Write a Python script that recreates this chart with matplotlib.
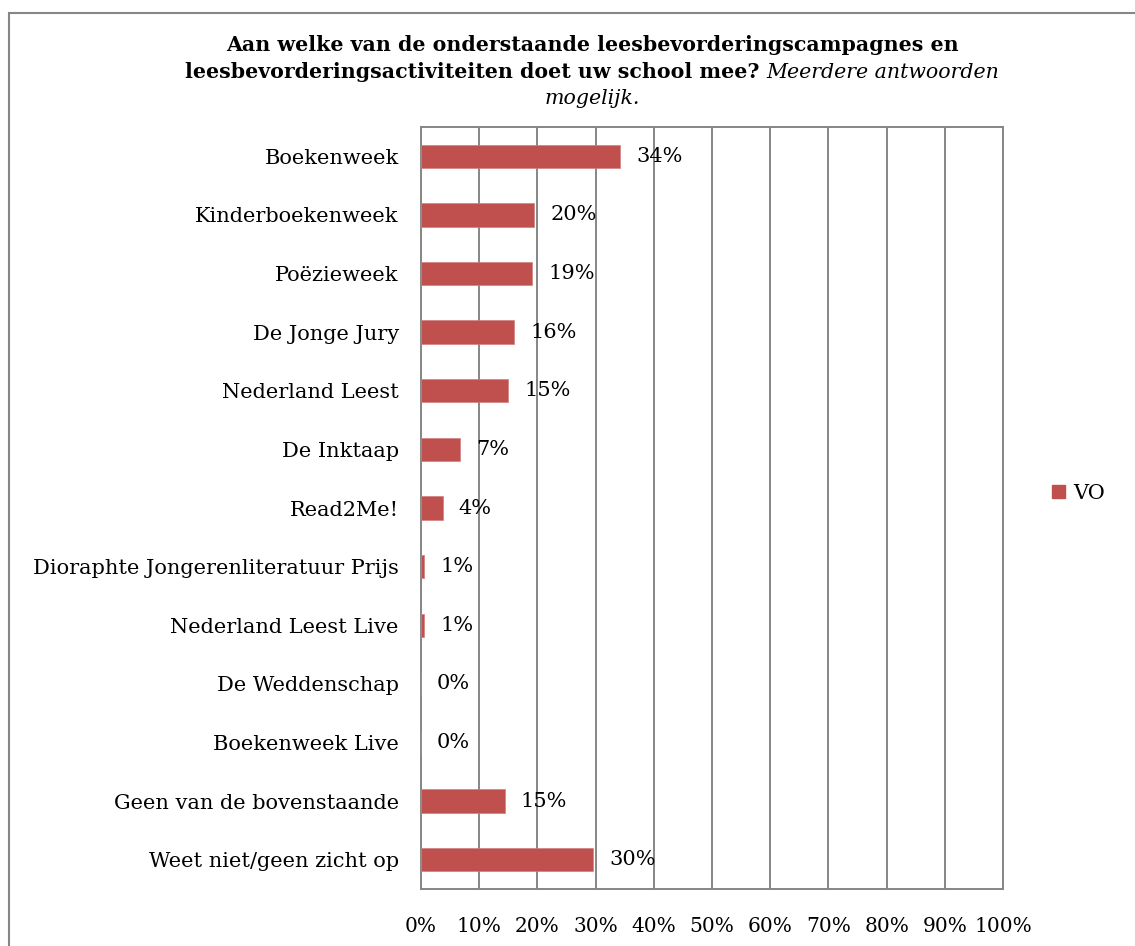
import matplotlib
matplotlib.use("Agg")
import matplotlib.pyplot as plt
from matplotlib.patches import Rectangle, Patch

categories = ["Boekenweek", "Kinderboekenweek", "Poëzieweek", "De Jonge Jury",
              "Nederland Leest", "De Inktaap", "Read2Me!",
              "Dioraphte Jongerenliteratuur Prijs", "Nederland Leest Live",
              "De Weddenschap", "Boekenweek Live", "Geen van de bovenstaande",
              "Weet niet/geen zicht op"]
values = [34.2, 19.5, 19.1, 16.0, 15.0, 6.7, 3.7, 0.6, 0.6, 0.0, 0.0, 14.4, 29.6]
labels = ["34%", "20%", "19%", "16%", "15%", "7%", "4%", "1%", "1%", "0%", "0%", "15%", "30%"]
ticks = [0, 10, 20, 30, 40, 50, 60, 70, 80, 90, 100]
tick_labels = [f"{t}%" for t in ticks]
series_name = "VO"

W, H = 1135, 946
plt.rcParams['font.family'] = ['DejaVu Serif']
fig = plt.figure(figsize=(W / 100, H / 100), dpi=100)

def fx(px):
    return px / W

def fy(py):
    return 1 - py / H

# chart area border
fig.patches.append(Rectangle((fx(9), fy(946 + 20)), fx(1200), fy(13) - fy(966),
                             transform=fig.transFigure, fill=False,
                             edgecolor="#868686", linewidth=1.5))

ax = fig.add_axes([fx(421), fy(889), fx(1003) - fx(421), fy(127) - fy(889)])
bar_color = "#C0504D"
grid_color = "#868686"
fs = 15

y = list(range(len(categories)))
ax.barh(y, values, height=0.4, color=bar_color, edgecolor="#D08080", linewidth=0.5,
        zorder=3, label=series_name)
ax.set_ylim(len(categories) - 0.5, -0.5)
ax.set_xlim(0, 100)
ax.set_yticks(y)
ax.set_yticklabels(categories, fontsize=fs)
ax.set_xticks(ticks)
ax.set_xticklabels(tick_labels, fontsize=14.5)
ax.tick_params(axis='y', length=0, pad=16)
ax.tick_params(axis='x', length=0, pad=20)
ax.grid(axis='x', color=grid_color, linewidth=1.4, zorder=1)
for s in ax.spines.values():
    s.set_color(grid_color)
    s.set_linewidth(1.4)

for yi, v, lab in zip(y, values, labels):
    ax.annotate(lab, xy=(v, yi), xytext=(11.5, 0), textcoords="offset points",
                ha="left", va="center", fontsize=fs, zorder=4)

# legend
leg = fig.legend(handles=[Patch(facecolor=bar_color, edgecolor=bar_color)],
                 labels=[series_name], loc="center left",
                 bbox_to_anchor=(fx(1052), fy(493)), frameon=False,
                 fontsize=fs, handlelength=0.6, handleheight=0.6,
                 handletextpad=0.4, borderpad=0, borderaxespad=0)

# title (mixed bold / italic)
cx = 592
tfs = 14.8
renderer = fig.canvas.get_renderer()
t1 = fig.text(fx(cx), fy(45), "Aan welke van de onderstaande leesbevorderingscampagnes en",
              ha="center", va="center", fontsize=tfs, fontweight="bold")
part_a = "leesbevorderingsactiviteiten doet uw school mee? "
part_b = "Meerdere antwoorden"
ta = fig.text(0, fy(72), part_a, ha="left", va="center", fontsize=tfs, fontweight="bold")
tb = fig.text(0, fy(72), part_b, ha="left", va="center", fontsize=tfs, fontstyle="italic")
wa = ta.get_window_extent(renderer).width
wb = tb.get_window_extent(renderer).width
start = cx - (wa + wb) / 2
ta.set_x(fx(start))
tb.set_x(fx(start + wa))
fig.text(fx(cx), fy(98), "mogelijk.", ha="center", va="center", fontsize=tfs,
         fontstyle="italic")

fig.savefig("out.png", dpi=100)
